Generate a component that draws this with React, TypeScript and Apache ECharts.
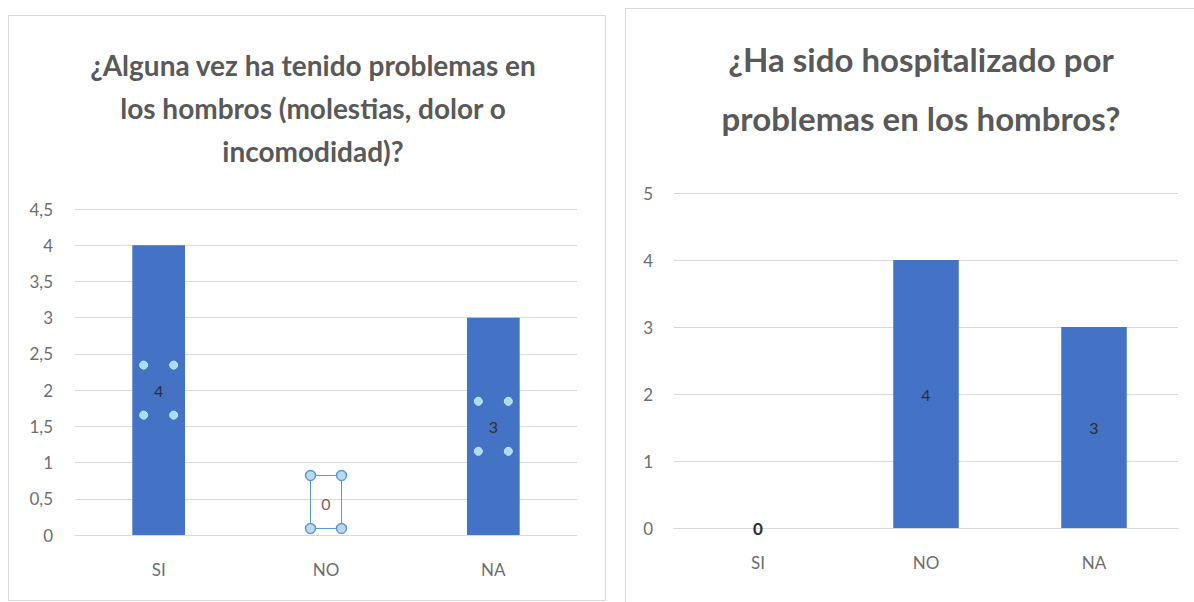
import React, { useEffect, useRef } from "react";
import * as echarts from "echarts";

// Survey answers about shoulder problems
const categories = ["SI", "NO", "NA"];
const problemsValues = [4, 0, 3];
const hospitalValues = [0, 4, 3];

const problemsTitle = "¿Alguna vez ha tenido problemas en\nlos hombros (molestias, dolor o\nincomodidad)?";
const hospitalTitle = "¿Ha sido hospitalizado por\nproblemas en los hombros?";

const BAR = "#4472C4";
const GRID = "#D9D9D9";
const TEXT = "#595959";
const AXIS_TEXT = "#6E6E6E";
const FONT = "Lato, 'Open Sans', sans-serif";

export default function App() {
  const ref = useRef<HTMLDivElement>(null);

  useEffect(() => {
    if (!ref.current) return;
    const chart = echarts.init(ref.current, undefined, { renderer: "svg" });

    const axisLabel = { color: AXIS_TEXT, fontFamily: FONT, fontSize: 17 };

    chart.setOption({
      animation: false,
      backgroundColor: "#ffffff",
      title: [
        {
          text: problemsTitle,
          left: 308,
          top: 38,
          textAlign: "center",
          textStyle: { color: TEXT, fontFamily: FONT, fontSize: 28, fontWeight: "bold", lineHeight: 43 },
        },
        {
          text: hospitalTitle,
          left: 916,
          top: 24,
          textAlign: "center",
          textStyle: { color: TEXT, fontFamily: FONT, fontSize: 33, fontWeight: "bold", lineHeight: 59 },
        },
      ],
      grid: [
        { left: 75, width: 502, top: 209, height: 326 },
        { left: 674, width: 504, top: 193, height: 335 },
      ],
      xAxis: [0, 1].map((i) => ({
        type: "category",
        gridIndex: i,
        data: categories,
        axisLine: { lineStyle: { color: GRID } },
        axisTick: { show: false },
        axisLabel: { ...axisLabel, margin: 26 },
      })),
      yAxis: [
        {
          type: "value",
          gridIndex: 0,
          min: 0,
          max: 4.5,
          interval: 0.5,
          axisLine: { show: false },
          axisTick: { show: false },
          splitLine: { lineStyle: { color: GRID } },
          axisLabel: {
            ...axisLabel,
            margin: 22,
            formatter: (v: number) => String(v).replace(".", ","),
          },
        },
        {
          type: "value",
          gridIndex: 1,
          min: 0,
          max: 5,
          interval: 1,
          axisLine: { show: false },
          axisTick: { show: false },
          splitLine: { lineStyle: { color: GRID } },
          axisLabel: { ...axisLabel, margin: 21 },
        },
      ],
      series: [
        {
          type: "bar",
          xAxisIndex: 0,
          yAxisIndex: 0,
          barWidth: "31.5%",
          itemStyle: { color: BAR },
          label: { show: true, position: "inside", color: "#2F2F2F", fontFamily: FONT, fontSize: 16 },
          data: problemsValues.map((v) =>
            v === 0
              ? { value: v, label: { position: "top", distance: 24, color: "#7A6458" } }
              : v
          ),
        },
        {
          type: "bar",
          xAxisIndex: 1,
          yAxisIndex: 1,
          barWidth: "39%",
          itemStyle: { color: BAR },
          label: { show: true, position: "inside", color: "#2F2F2F", fontFamily: FONT, fontSize: 16 },
          data: hospitalValues.map((v) =>
            v === 0 ? { value: v, label: { fontWeight: "bold", fontSize: 17 } } : v
          ),
        },
      ],
    });

    // Selection handles around the left chart's data labels
    const handles: any[] = [];
    problemsValues.forEach((v, i) => {
      const [cx, baseY] = chart.convertToPixel({ seriesIndex: 0 }, [i, v / 2]) as number[];
      const cy = v === 0 ? baseY - 33 : baseY;
      const dx = v === 0 ? 15.5 : 15;
      const dy = v === 0 ? 26.5 : 25;
      if (v === 0) {
        handles.push({
          type: "rect",
          z: 100,
          shape: { x: cx - dx, y: cy - dy, width: dx * 2, height: dy * 2 },
          style: { fill: "none", stroke: "#5B9BD5", lineWidth: 1 },
          silent: true,
        });
      }
      [-1, 1].forEach((sx) =>
        [-1, 1].forEach((sy) =>
          handles.push({
            type: "circle",
            z: 100,
            shape: { cx: cx + sx * dx, cy: cy + sy * dy, r: v === 0 ? 5 : 4 },
            style:
              v === 0
                ? { fill: "#BDD7EE", stroke: "#5B9BD5", lineWidth: 1.5 }
                : { fill: "#A9DCF7", stroke: "#C9ECFF", lineWidth: 1 },
            silent: true,
          })
        )
      );
    });

    chart.setOption({
      graphic: [
        {
          type: "rect",
          shape: { x: 8.5, y: 15.5, width: 597, height: 585 },
          style: { fill: "none", stroke: GRID, lineWidth: 1 },
          silent: true,
          z: -1,
        },
        {
          type: "rect",
          shape: { x: 625.5, y: 8.5, width: 600, height: 620 },
          style: { fill: "none", stroke: GRID, lineWidth: 1 },
          silent: true,
          z: -1,
        },
        ...handles,
      ],
    });

    return () => chart.dispose();
  }, []);

  return (
    <div
      ref={ref}
      style={{ position: "fixed", left: 0, top: 0, width: 1194, height: 602, background: "#fff" }}
    />
  );
}
